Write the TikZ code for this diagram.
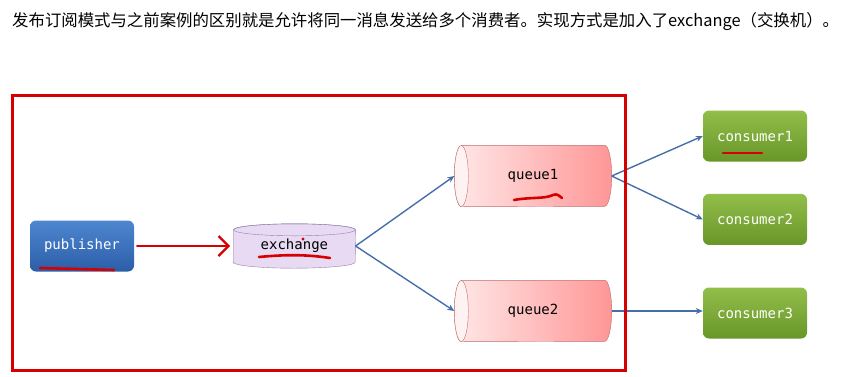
\documentclass[tikz,border=0pt]{standalone}
\usepackage{fontspec}
\setmonofont{DejaVu Sans Mono}
\newfontfamily\cjk{Noto Sans CJK SC}
\usepackage{tikz}
\usetikzlibrary{positioning,arrows.meta,calc,backgrounds}

\definecolor{pubtop}{RGB}{78,134,208}
\definecolor{pubbot}{RGB}{44,94,168}
\definecolor{contop}{RGB}{146,190,74}
\definecolor{conbot}{RGB}{104,150,40}
\definecolor{exfill}{RGB}{232,218,242}
\definecolor{exline}{RGB}{150,130,170}
\definecolor{qlight}{RGB}{255,232,232}
\definecolor{qdark}{RGB}{255,150,150}
\definecolor{qend}{RGB}{255,242,242}
\definecolor{qline}{RGB}{190,110,110}
\definecolor{flow}{RGB}{70,110,170}
\definecolor{redmark}{RGB}{214,0,0}

\begin{document}
\begin{tikzpicture}[
    x=1pt, y=-1pt,
    font=\ttfamily\fontsize{14}{16}\selectfont,
    box/.style={rounded corners=6pt, minimum width=104pt, minimum height=51pt,
                text=white, inner sep=0pt},
    pubbox/.style={box, top color=pubtop, bottom color=pubbot},
    conbox/.style={box, top color=contop, bottom color=conbot},
    queue/.style={minimum width=157pt, minimum height=61pt, inner sep=0pt},
    xchg/.style={minimum width=122pt, minimum height=44pt, inner sep=0pt},
    op/.style={-{Stealth[length=7pt,width=6pt]}, flow, line width=1.4pt},
    hot/.style={-{Straight Barb[length=10pt,width=20pt,line width=2.4pt]},
                redmark, line width=2.6pt, line cap=round,
                shorten <=3pt, shorten >=3pt},
    scribble/.style={redmark, line width=2.6pt, line cap=round},
  ]
  \useasboundingbox (0,0) rectangle (852,376);

  % --- Caption ---
  \node[anchor=west, inner sep=0pt, font=\cjk\fontsize{16.4}{19}\selectfont] (cap) at (12,22)
    {发布订阅模式与之前案例的区别就是允许将同一消息发送给多个消费者。实现方式是加入了exchange（交换机）。};

  % --- Producer side ---
  \node[pubbox] (pub) at (82,246) {publisher};
  \node[xchg, right=99pt of pub] (exch) {exchange};
  \draw[hot] (pub.east) -- (exch.west);

  % --- Queues ---
  \node[queue] (q1) at (533,176) {queue1};
  \node[queue] (q2) at (533,311) {queue2};
  \draw[op] (exch.east) -- (q1.west);
  \draw[op] (exch.east) -- (q2.west);

  % --- Consumers ---
  \node[conbox] (c1) at (755,136) {consumer1};
  \node[conbox, below=32pt of c1] (c2) {consumer2};
  \node[conbox] (c3) at (755,313) {consumer3};
  \draw[op] (q1.east) -- (c1.west);
  \draw[op] (q1.east) -- (c2.west);
  \draw[op] (q2.east) -- (c3.west |- q2.east);

  % --- Cylinder bodies behind the labels ---
  \begin{pgfonlayer}{background}
    \draw[exline, fill=exfill] ($(exch.north west)+(0,6)$) -- ($(exch.south west)+(0,-6)$)
      arc[start angle=180, end angle=360, x radius=61pt, y radius=6pt]
      -- ($(exch.north east)+(0,6)$)
      arc[start angle=0, end angle=180, x radius=61pt, y radius=6pt] -- cycle;
    \draw[exline] ($(exch.north)+(0,6)$) ellipse[x radius=61pt, y radius=6pt];
    \foreach \q in {q1,q2} {
      \draw[qline, left color=qlight, right color=qdark]
        ($(\q.north west)+(7,0)$) -- ($(\q.north east)+(-7,0)$)
        arc[start angle=90, end angle=-90, x radius=7pt, y radius=30.5pt]
        -- ($(\q.south west)+(7,0)$)
        arc[start angle=270, end angle=90, x radius=7pt, y radius=30.5pt] -- cycle;
      \draw[qline, fill=qend] ($(\q.west)+(7,0)$) ellipse[x radius=7pt, y radius=30.5pt];
    }
  \end{pgfonlayer}

  % --- Red marks ---
  \draw[redmark, line width=3pt] (12,95) rectangle (625,370);
  \draw[scribble] (40,268) -- (114,270);
  \draw[scribble] (259,257) .. controls (290,254) and (310,255) .. (330,258);
  \draw[scribble] (514,200) .. controls (530,197) and (545,199) .. (553,195)
    .. controls (557,194) .. (562,198);
  \draw[scribble] (723,153) -- (762,153);
  \fill[redmark] (303,239) circle (1.6pt);
\end{tikzpicture}
\end{document}
